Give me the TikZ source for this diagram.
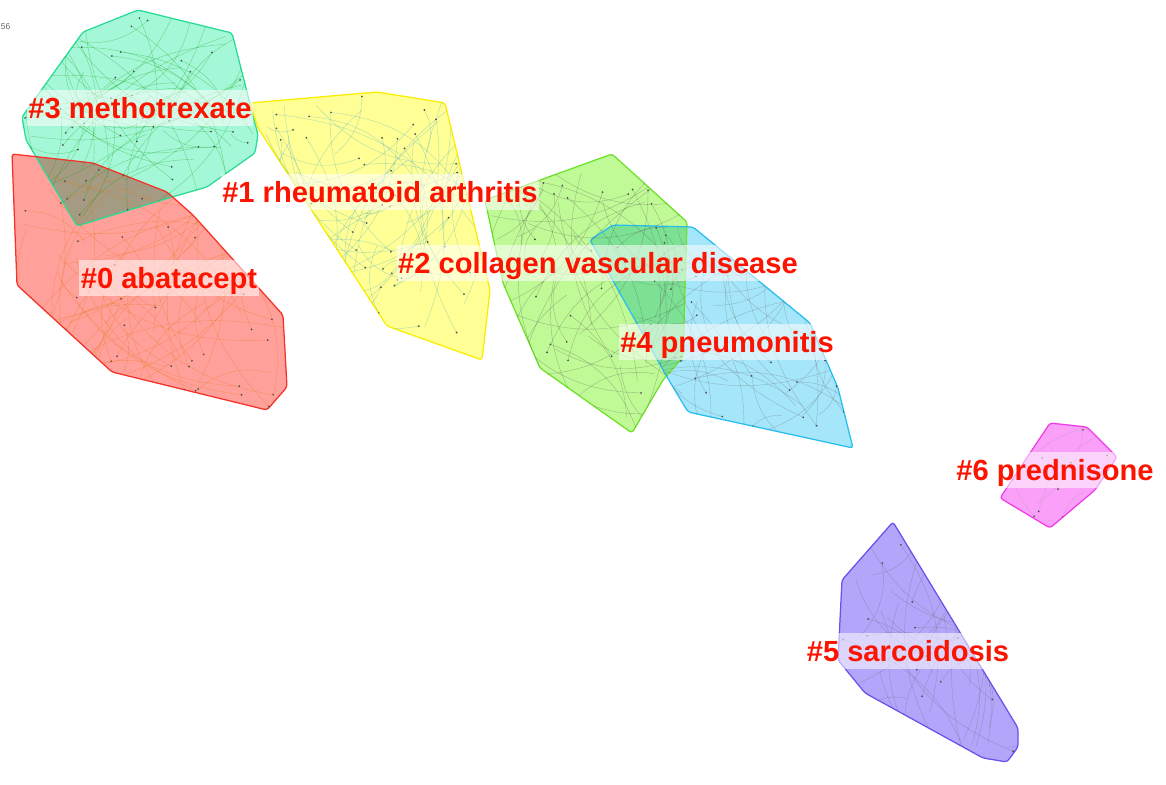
\documentclass[tikz,border=0pt]{standalone}
\usepackage{fontspec}
\setmainfont{Liberation Sans}
\usetikzlibrary{positioning}

\definecolor{mtxline}{RGB}{40,220,150}
\definecolor{mtxfill}{RGB}{165,248,215}
\definecolor{raline}{RGB}{250,238,0}
\definecolor{rafill}{RGB}{255,255,150}
\definecolor{abaline}{RGB}{245,50,40}
\definecolor{abafill}{RGB}{255,160,155}
\definecolor{cvdline}{RGB}{110,225,40}
\definecolor{cvdfill}{RGB}{192,250,150}
\definecolor{pneline}{RGB}{40,190,240}
\definecolor{pnefill}{RGB}{165,230,250}
\definecolor{preline}{RGB}{240,60,230}
\definecolor{prefill}{RGB}{250,160,248}
\definecolor{sarline}{RGB}{110,80,235}
\definecolor{sarfill}{RGB}{178,165,250}
\definecolor{labelred}{RGB}{252,20,0}

% random mesh of citation links inside one hull
\newcommand{\netmesh}[7]{%
  \begin{scope}
    \clip[#7];
    \foreach \k in {1,...,#5}{
      \pgfmathsetmacro{\ax}{#1+#3*rand}
      \pgfmathsetmacro{\ay}{#2+#4*rand}
      \pgfmathsetmacro{\bx}{#1+#3*rand}
      \pgfmathsetmacro{\by}{#2+#4*rand}
      \draw[netedge=#6] (\ax,\ay) to[bend left=25] (\bx,\by);
      \fill[netdot] (\ax,\ay) circle (0.7pt);
    }
  \end{scope}}

\begin{document}
\begin{tikzpicture}[
    x=0.025cm, y=-0.025cm,
    hullmtx/.style={insert path={(138,10) -- (232,33) -- (258,135) -- (255,153) -- (207,187) -- (172,197) -- (77,226) -- (26,140) -- (22,117) -- (83,32) -- cycle}},
    hullra/.style={insert path={(250,103) -- (377,92) -- (445,103) -- (490,290) -- (482,360) -- (387,326) -- (258,128) -- cycle}},
    hullaba/.style={insert path={(12,154) -- (93,163) -- (167,192) -- (193,215) -- (283,315) -- (287,387) -- (267,410) -- (112,372) -- (17,285) -- cycle}},
    hullcvd/.style={insert path={(485,200) -- (612,154) -- (687,222) -- (683,357) -- (663,380) -- (632,433) -- (540,368) -- (503,283) -- cycle}},
    hullpne/.style={insert path={(590,240) -- (613,225) -- (693,227) -- (810,323) -- (838,388) -- (853,448) -- (688,412) -- (667,377) -- cycle}},
    hullpre/.style={insert path={(1050,423) -- (1087,427) -- (1117,457) -- (1095,490) -- (1050,528) -- (1000,498) -- cycle}},
    hullsar/.style={insert path={(893,522) -- (1018,728) -- (1018,747) -- (1007,762) -- (983,758) -- (865,693) -- (838,660) -- (842,580) -- cycle}},
    edge/.style={draw=#1, line width=0.9pt, rounded corners=2pt},
    netedge/.style={draw=#1, line width=0.3pt, draw opacity=0.35},
    netdot/.style={fill=black!70},
    clabel/.style={text=labelred, font=\bfseries\fontsize{20.7}{24}\selectfont,
        fill=white, fill opacity=0.55, text opacity=1,
        text height=18.6pt, text depth=3.1pt, inner xsep=1pt, inner ysep=2pt}
]
\useasboundingbox (0,0) rectangle (1166,784);
\pgfmathsetseed{2718}

% cluster hulls
\begin{scope}[blend mode=multiply]
\fill[mtxfill, rounded corners=2pt][hullmtx];
\fill[rafill, rounded corners=2pt][hullra];
\fill[abafill, rounded corners=2pt][hullaba];
\fill[cvdfill, rounded corners=2pt][hullcvd];
\fill[pnefill, rounded corners=2pt][hullpne];
\fill[prefill, rounded corners=2pt][hullpre];
\fill[sarfill, rounded corners=2pt][hullsar];
\end{scope}
\path[edge=mtxline][hullmtx];
\path[edge=raline][hullra];
\path[edge=abaline][hullaba];
\path[edge=cvdline][hullcvd];
\path[edge=pneline][hullpne];
\path[edge=preline][hullpre];
\path[edge=sarline][hullsar];

% links and cited items
\netmesh{140}{115}{115}{105}{60}{green!60!black}{hullmtx}
\netmesh{375}{215}{115}{120}{60}{cyan!80!black}{hullra}
\netmesh{150}{285}{135}{125}{70}{orange!90!black}{hullaba}
\netmesh{590}{295}{100}{140}{55}{black!70}{hullcvd}
\netmesh{725}{335}{130}{110}{50}{black!60}{hullpne}
\netmesh{1058}{475}{60}{55}{10}{black!40}{hullpre}
\netmesh{930}{640}{95}{120}{45}{black!60}{hullsar}

\node[anchor=west, inner sep=0.5pt, text=black!60, font=\fontsize{6}{7}\selectfont] (yrs) at (0,27) {56};

% cluster labels
\node[clabel] (c3) at (140,108) {\#3 methotrexate};
\node[clabel] (c1) at (380,192) {\#1 rheumatoid arthritis};
\node[clabel] (c0) at (169,278) {\#0 abatacept};
\node[clabel] (c2) at (598,263) {\#2 collagen vascular disease};
\node[clabel] (c4) at (727,342) {\#4 pneumonitis};
\node[clabel] (c6) at (1055,470) {\#6 prednisone};
\node[clabel] (c5) at (908,651) {\#5 sarcoidosis};
\end{tikzpicture}
\end{document}
